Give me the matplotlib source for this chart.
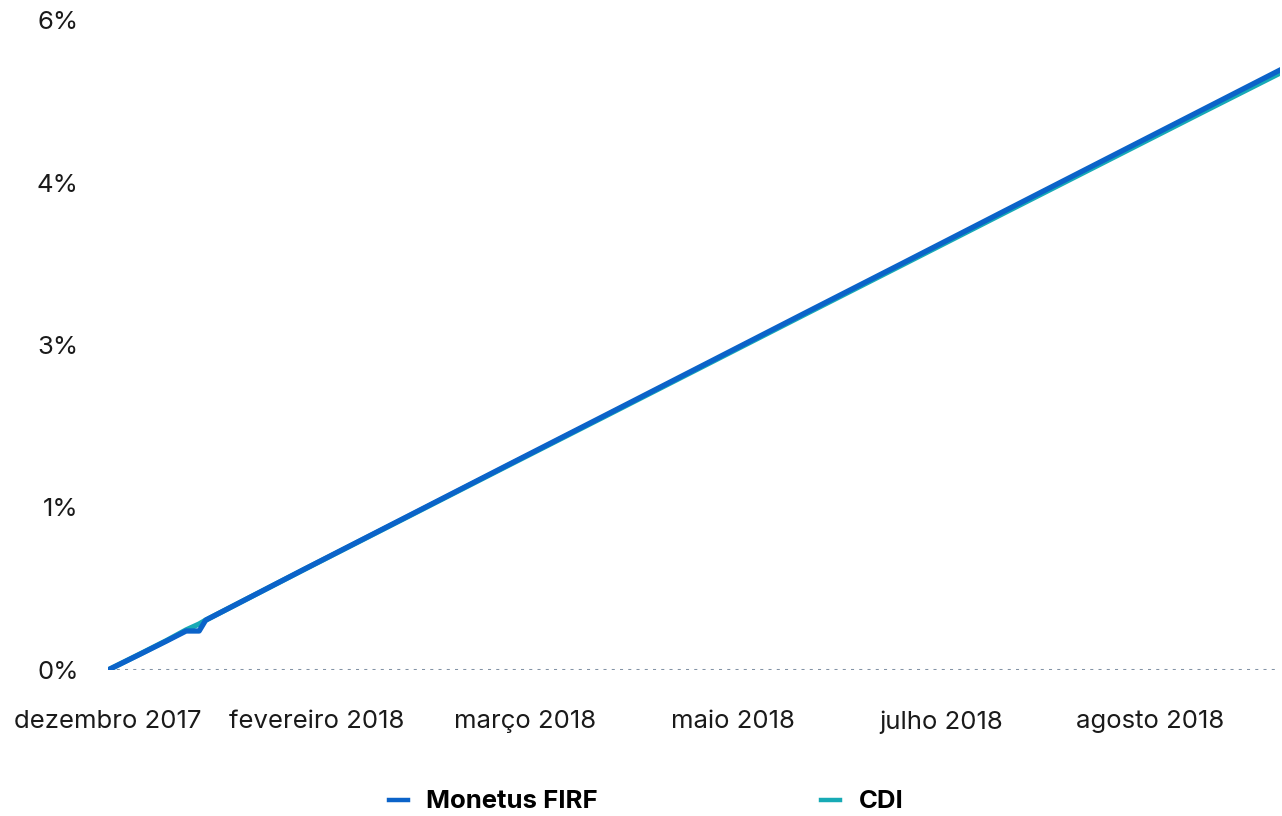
import matplotlib
matplotlib.use('Agg')
import matplotlib.pyplot as plt
from matplotlib.lines import Line2D

plt.rcParams['font.family'] = ['Inter', 'DejaVu Sans']

# Cumulative return (%), sampled along the trading-day index
days = [0, 5, 9, 12, 14, 15, 30, 46, 61, 76, 92, 107, 122, 138, 153, 168, 180]
monetus = [0.0, 0.148, 0.268, 0.36, 0.36, 0.46, 0.926, 1.418, 1.880, 2.340,
           2.832, 3.294, 3.754, 4.247, 4.708, 5.169, 5.538]
cdi = [0.0, 0.150, 0.272, 0.37, 0.425, 0.46, 0.924, 1.414, 1.874, 2.332,
       2.822, 3.282, 3.740, 4.230, 4.688, 5.146, 5.51]

tick_days = [0, 32, 64, 96, 128, 160]
tick_labels = ['dezembro 2017', 'fevereiro 2018', 'março 2018', 'maio 2018',
               'julho 2018', 'agosto 2018']
ytick_vals = [0, 1.5, 3, 4.5, 6]
ytick_labels = ['0%', '1%', '3%', '4%', '6%']

blue = '#0b63c9'
teal = '#17aab5'

fig = plt.figure(figsize=(12.82, 8.16), dpi=100)
ax = fig.add_axes([108 / 1282, 146 / 816, 1172 / 1282, 650 / 816])

# dotted zero line
ax.axhline(0, color='#8393a6', linestyle=(0, (1, 1.7)), linewidth=2.2,
           dash_capstyle='butt', zorder=1)
ax.plot(days, cdi, color=teal, linewidth=3.8, zorder=2)
ax.plot(days, monetus, color=blue, linewidth=3.8, zorder=3)

ax.set_xlim(0, 180)
ax.set_ylim(0, 6)
ax.set_xticks(tick_days)
ax.set_xticklabels(tick_labels)
ax.set_yticks(ytick_vals)
ax.set_yticklabels(ytick_labels)
ax.tick_params(axis='both', length=0, labelsize=18.5, colors='#1a1a1a')
ax.tick_params(axis='x', pad=29)
ax.tick_params(axis='y', pad=21)
for s in ax.spines.values():
    s.set_visible(False)
ax.patch.set_visible(False)

handles = [Line2D([0], [0], color=blue, linewidth=3.2),
           Line2D([0], [0], color=teal, linewidth=3.2)]
leg = fig.legend(handles, ['Monetus FIRF', 'CDI'], loc='center',
                 bbox_to_anchor=(0.5 + 5 / 1282, 1 - 802 / 816), ncol=2, frameon=False,
                 handlelength=0.75, handletextpad=0.7, columnspacing=8.7,
                 prop={'size': 18.5, 'weight': 'bold'})

fig.savefig('out.png', dpi=100)
